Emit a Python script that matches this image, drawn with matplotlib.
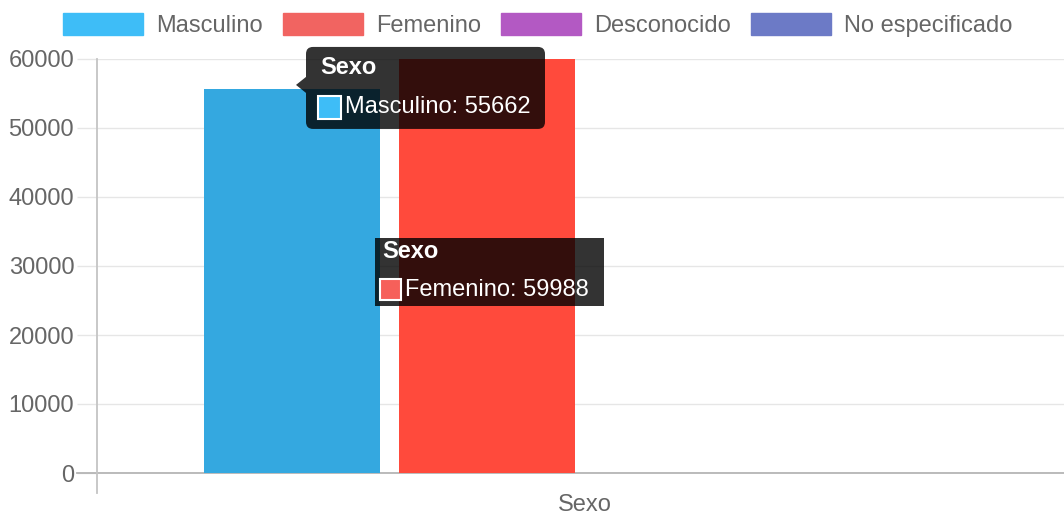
import matplotlib
matplotlib.use('Agg')
import matplotlib.pyplot as plt
from matplotlib.patches import Patch, FancyBboxPatch, Polygon, Rectangle
from matplotlib.transforms import IdentityTransform

plt.rcParams['font.family'] = ['Liberation Sans', 'DejaVu Sans']

# data
categories = ['Sexo']
series = ['Masculino', 'Femenino', 'Desconocido', 'No especificado']
values = [55662, 59988, 0, 0]
legend_colors = ['#3ebdf7', '#f16461', '#b359c3', '#6c7ac6']
bar_colors = ['#34a8e0', '#ff4a3c', '#a544b6', '#5566c0']
yticks = [0, 10000, 20000, 30000, 40000, 50000, 60000]

W, H = 1064, 517
fig = plt.figure(figsize=(W / 100, H / 100), dpi=100)
# plot area runs a little past the right edge of the canvas
ax = fig.add_axes([97 / W, (H - 473) / H, (1072 - 97) / W, (473 - 59) / H])

# chart.js style grouping: category 0.8, bar 0.9
n = len(series)
slot = 0.8 / n
xpos = [-0.4 + slot * (i + 0.5) for i in range(n)]
for i in range(n):
    ax.bar(xpos[i], values[i], width=slot * 0.9, color=bar_colors[i], zorder=2)

ax.set_xlim(-0.5, 0.5)
ax.set_ylim(0, 60000)
ax.set_yticks(yticks)
ax.set_yticklabels([str(t) for t in yticks])
ax.set_xticks([0])
ax.set_xticklabels(categories)

for s in ax.spines.values():
    s.set_visible(False)

ax.yaxis.grid(True, color='#e6e6e6', lw=1)
ax.set_axisbelow(True)
ax.tick_params(axis='y', length=14.4, width=1, color='#e6e6e6', labelcolor='#666666',
               labelsize=17, pad=2)
ax.tick_params(axis='x', length=0, labelcolor='#666666', labelsize=17, pad=15)
# darker zero line, running out to the tick mark
ax.axhline(0, xmin=-20 / 975, xmax=1, color='#b5b5b5', lw=1.3, clip_on=False, zorder=1)
ax.axvline(-0.5, ymin=-20 / 414, ymax=1, color='#c4c4c4', lw=1.3, clip_on=False, zorder=3)

handles = [Patch(facecolor=c, edgecolor=c) for c in legend_colors]
fig.legend(handles, series, loc='upper center', bbox_to_anchor=(537.5 / W, 1 - 13 / H),
           ncol=4, frameon=False, fontsize=17, handlelength=3.39, handleheight=1.05,
           handletextpad=0.55, columnspacing=0.85, labelcolor='#666666',
           borderpad=0, borderaxespad=0)

ident = IdentityTransform()


def px(x, y):
    # top-left pixel coords -> display coords
    return x, H - y


def tooltip(left, top, w, h, title, label, value, color, rounded, caret_y=None):
    style = 'round,pad=0,rounding_size=7' if rounded else 'square,pad=0'
    fig.add_artist(FancyBboxPatch(px(left, top + h), w, h, boxstyle=style,
                                  transform=ident, fc=(0, 0, 0, 0.8), ec='none'))
    if caret_y is not None:
        fig.add_artist(Polygon([px(left, caret_y - 8), px(left - 10, caret_y),
                                px(left, caret_y + 8)], closed=True, transform=ident,
                               fc=(0, 0, 0, 0.8), ec='none'))
    pad = 14 if rounded else 7
    fig.text(*px(left + pad, top + (21 if rounded else 13)), title, transform=ident,
             color='white', fontsize=17, fontweight='bold', va='center', ha='left')
    sq = 23 if rounded else 21
    sy = top + (49 if rounded else 41)
    fig.add_artist(Rectangle(px(left + pad - 2, sy + sq), sq, sq, transform=ident,
                             fc=color, ec='white', lw=1.5))
    fig.text(*px(left + pad - 2 + sq + 4, sy + sq / 2), f'{label}: {value}',
             transform=ident, color='white', fontsize=17, va='center', ha='left')


# tooltip for Masculino, caret pointing at the bar top
bx, by = ax.transData.transform((xpos[0], values[0]))
by = H - by
tooltip(bx + 14, by - 42, 239, 82, 'Sexo', series[0], values[0], legend_colors[0],
        True, caret_y=by - 4)

# tooltip for Femenino, centred on the bar
bx, by = ax.transData.transform((xpos[1], values[1] / 2))
by = H - by
tooltip(bx - 112, by - 28, 229, 68, 'Sexo', series[1], values[1], '#f6605a', False)

fig.savefig('out.png', dpi=100)
